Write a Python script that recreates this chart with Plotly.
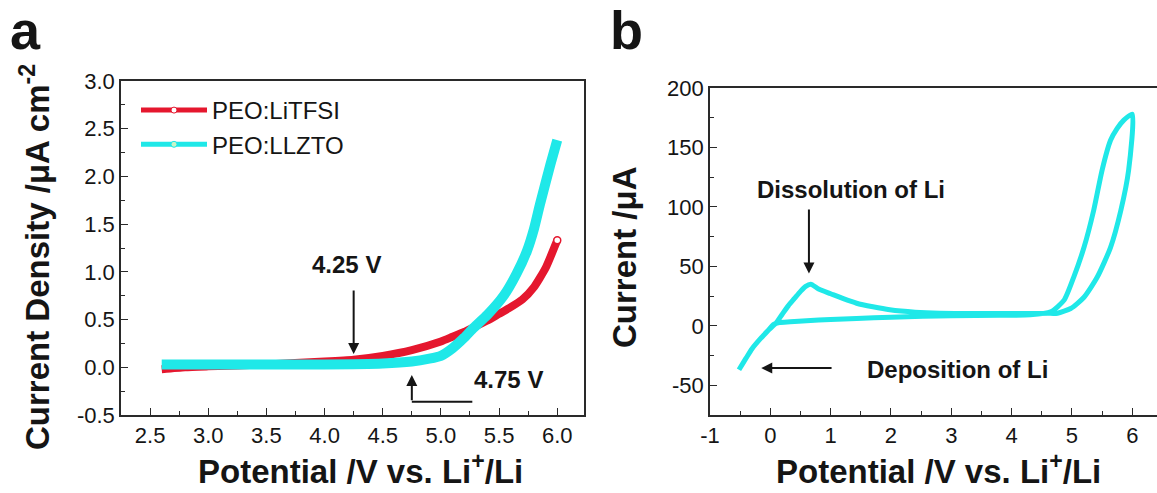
import plotly.graph_objects as go

W, H = 1157, 493

# ---------------- data: panel a (LSV) ----------------
litfsi_x = [2.6, 2.8, 3.0, 3.5, 4.0, 4.25, 4.5, 4.75, 5.0, 5.1, 5.2, 5.3, 5.4, 5.5, 5.6, 5.7, 5.8, 5.9, 6.0]
litfsi_y = [-0.02, 0.0, 0.01, 0.03, 0.06, 0.08, 0.12, 0.18, 0.27, 0.32, 0.37, 0.43, 0.49, 0.56, 0.63, 0.71, 0.84, 1.04, 1.33]
llzto_x = [2.6, 3.0, 3.5, 4.0, 4.5, 4.75, 4.9, 5.0, 5.1, 5.2, 5.27, 5.4, 5.54, 5.65, 5.74, 5.8, 5.85, 5.94, 6.0]
llzto_y = [0.03, 0.03, 0.03, 0.03, 0.04, 0.06, 0.09, 0.12, 0.2, 0.31, 0.40, 0.55, 0.75, 0.98, 1.22, 1.45, 1.70, 2.12, 2.38]

# ---------------- data: panel b (CV) ----------------
cv_x = [-0.52, -0.4, -0.3, -0.16, -0.03, 0.09, 0.2, 0.3, 0.4, 0.5, 0.58, 0.67, 0.8, 1.0, 1.2, 1.43,
        1.7, 1.98, 2.4, 2.81, 3.3, 3.8, 4.3, 4.6, 4.76, 4.98, 5.2, 5.42, 5.64, 5.81, 5.94, 6.0,
        5.86, 5.75, 5.64, 5.5, 5.36, 5.2, 5.03, 4.87, 4.65, 4.31, 3.8, 3.0, 2.53, 2.0, 1.43, 1.0,
        0.6, 0.33, 0.15, 0.05, -0.03, -0.16, -0.3, -0.4, -0.52]
cv_y = [-37, -27, -19, -10.6, -3.6, 2, 10, 17, 23, 29, 33, 35, 31, 27, 23, 19,
        16, 13.5, 11.5, 10.6, 10.3, 10.3, 10.4, 10.5, 10.6, 14.6, 24, 41, 66, 97, 131, 178,
        173, 166, 156, 131, 97, 66, 41, 21.6, 11.8, 9.2, 8.9, 8.4, 8.0, 7.3, 6.2, 5.3,
        4.3, 3.4, 2.8, 1.0, -3.6, -10.6, -19, -27, -37]

# tick labels
a_xticks = [2.5, 3.0, 3.5, 4.0, 4.5, 5.0, 5.5, 6.0]
a_xlabels = ["2.5", "3.0", "3.5", "4.0", "4.5", "5.0", "5.5", "6.0"]
a_yticks = [-0.5, 0.0, 0.5, 1.0, 1.5, 2.0, 2.5, 3.0]
a_ylabels = ["-0.5", "0.0", "0.5", "1.0", "1.5", "2.0", "2.5", "3.0"]
b_xticks = [-1, 0, 1, 2, 3, 4, 5, 6]
b_xlabels = ["-1", "0", "1", "2", "3", "4", "5", "6"]
b_yticks = [-50, 0, 50, 100, 150, 200]
b_ylabels = ["-50", "0", "50", "100", "150", "200"]

RED = "#E5172E"
CYAN = "#1FE8E8"
INK = "#151515"
FONT = "Liberation Sans, Arial, sans-serif"

def px_x(p):
    return p / W

def px_y(p):
    return 1 - p / H

fig = go.Figure()

# panel a curves
fig.add_trace(go.Scatter(x=litfsi_x, y=litfsi_y, mode="lines",
                         line=dict(color=RED, width=8, shape="spline", smoothing=0.5),
                         showlegend=False, xaxis="x", yaxis="y"))
fig.add_trace(go.Scatter(x=litfsi_x[-1:], y=litfsi_y[-1:], mode="markers",
                         marker=dict(symbol="circle", size=7, color="white", line=dict(color=RED, width=1.5)),
                         showlegend=False, xaxis="x", yaxis="y"))
fig.add_trace(go.Scatter(x=llzto_x, y=llzto_y, mode="lines",
                         line=dict(color=CYAN, width=10, shape="spline", smoothing=0.5),
                         showlegend=False, xaxis="x", yaxis="y"))
# legend entries
fig.add_trace(go.Scatter(x=[None], y=[None], mode="lines+markers", name="PEO:LiTFSI",
                         line=dict(color=RED, width=5),
                         marker=dict(symbol="circle", size=6, color="white", line=dict(color=RED, width=1)),
                         xaxis="x", yaxis="y"))
fig.add_trace(go.Scatter(x=[None], y=[None], mode="lines+markers", name="PEO:LLZTO",
                         line=dict(color=CYAN, width=5),
                         marker=dict(symbol="circle", size=6, color="#c8f5c8", line=dict(color=CYAN, width=1)),
                         xaxis="x", yaxis="y"))

# panel b curve
fig.add_trace(go.Scatter(x=cv_x, y=cv_y, mode="lines", line=dict(color=CYAN, width=5, shape="spline", smoothing=0.6),
                         showlegend=False, xaxis="x2", yaxis="y2"))

axis_common = dict(showline=True, linecolor="#2a2a2a", linewidth=1.6, ticks="inside", ticklen=7,
                   tickwidth=1.3, tickcolor="#2a2a2a", showgrid=False, zeroline=False,
                   tickfont=dict(family=FONT, size=22, color=INK), automargin=False)

fig.update_layout(
    width=W, height=H,
    margin=dict(l=0, r=0, t=0, b=0),
    paper_bgcolor="white", plot_bgcolor="white",
    font=dict(family=FONT, color=INK),
    xaxis=dict(domain=[px_x(121), px_x(584)], range=[2.25, 6.23], anchor="y", mirror=True,
               tickmode="array", tickvals=a_xticks, ticktext=a_xlabels,
               minor=dict(ticks="inside", ticklen=4, dtick=0.25, tick0=2.25, tickcolor="#2a2a2a"),
               **axis_common),
    yaxis=dict(domain=[px_y(415), px_y(81)], range=[-0.5, 3.0], anchor="x", mirror=True,
               tickmode="array", tickvals=a_yticks, ticktext=a_ylabels,
               minor=dict(ticks="inside", ticklen=4, dtick=0.25, tick0=-0.25, tickcolor="#2a2a2a"),
               **axis_common),
    xaxis2=dict(domain=[px_x(710), 1.0], range=[-1, 6.41], anchor="y2", mirror=True,
                tickmode="array", tickvals=b_xticks, ticktext=b_xlabels,
                minor=dict(ticks="inside", ticklen=4, dtick=0.5, tick0=-0.5, tickcolor="#2a2a2a"),
                **axis_common),
    yaxis2=dict(domain=[px_y(415), px_y(88)], range=[-75, 200], anchor="x2", mirror=False,
                tickmode="array", tickvals=b_yticks, ticktext=b_ylabels,
                minor=dict(ticks="inside", ticklen=4, dtick=25, tick0=-75, tickcolor="#2a2a2a"),
                **axis_common),
    legend=dict(x=px_x(136), y=px_y(88), xanchor="left", yanchor="top", bgcolor="rgba(0,0,0,0)",
                font=dict(family=FONT, size=24, color=INK), tracegroupgap=0, itemwidth=66),
    showlegend=True,
)

ann = []
# panel letters
ann.append(dict(text="<b>a</b>", x=px_x(8), y=px_y(30), xref="paper", yref="paper", xanchor="left",
                yanchor="middle", showarrow=False, font=dict(family=FONT, size=54, color=INK)))
ann.append(dict(text="<b>b</b>", x=px_x(608), y=px_y(30), xref="paper", yref="paper", xanchor="left",
                yanchor="middle", showarrow=False, font=dict(family=FONT, size=54, color=INK)))
# axis titles
title_font = dict(family=FONT, size=33, color=INK)
ann.append(dict(text="<b>Potential /V vs. Li<sup>+</sup>/Li</b>", x=px_x(360), y=px_y(469), xref="paper", yref="paper",
                xanchor="center", yanchor="middle", showarrow=False, font=title_font))
ann.append(dict(text="<b>Potential /V vs. Li<sup>+</sup>/Li</b>", x=px_x(938), y=px_y(469), xref="paper", yref="paper",
                xanchor="center", yanchor="middle", showarrow=False, font=title_font))
ann.append(dict(text="<b>Current Density /μA cm<sup>-2</sup></b>", x=px_x(35), y=px_y(257), xref="paper", yref="paper",
                xanchor="center", yanchor="middle", textangle=-90, showarrow=False, font=title_font))
ann.append(dict(text="<b>Current /μA</b>", x=px_x(624), y=px_y(257), xref="paper", yref="paper",
                xanchor="center", yanchor="middle", textangle=-90, showarrow=False, font=title_font))

lab_font = dict(family=FONT, size=24, color=INK)
# panel a annotations
ann.append(dict(text="<b>4.25 V</b>", x=4.19, y=1.08, xref="x", yref="y", showarrow=False, font=lab_font))
ann.append(dict(text="", x=4.25, y=0.14, ax=4.25, ay=0.82, xref="x", yref="y", axref="x", ayref="y",
                showarrow=True, arrowhead=2, arrowsize=1.1, arrowwidth=2, arrowcolor=INK, standoff=0))
ann.append(dict(text="<b>4.75 V</b>", x=5.58, y=-0.13, xref="x", yref="y", showarrow=False, font=lab_font))
ann.append(dict(text="", x=4.75, y=-0.08, ax=4.75, ay=-0.36, xref="x", yref="y", axref="x", ayref="y",
                showarrow=True, arrowhead=2, arrowsize=1.1, arrowwidth=2, arrowcolor=INK, standoff=0))
# panel b annotations
ann.append(dict(text="<b>Dissolution of Li</b>", x=1.34, y=115, xref="x2", yref="y2", showarrow=False, font=lab_font))
ann.append(dict(text="", x=0.64, y=44, ax=0.64, ay=99, xref="x2", yref="y2", axref="x2", ayref="y2",
                showarrow=True, arrowhead=2, arrowsize=1.1, arrowwidth=2, arrowcolor=INK, standoff=0))
ann.append(dict(text="<b>Deposition of Li</b>", x=3.1, y=-37, xref="x2", yref="y2", showarrow=False, font=lab_font))
ann.append(dict(text="", x=-0.15, y=-35.5, ax=1.04, ay=-35.5, xref="x2", yref="y2", axref="x2", ayref="y2",
                showarrow=True, arrowhead=2, arrowsize=1.1, arrowwidth=2, arrowcolor=INK, standoff=0))
fig.update_layout(annotations=ann)

fig.add_shape(type="line", xref="x", yref="y", x0=4.75, x1=5.27, y0=-0.36, y1=-0.36,
              line=dict(color=INK, width=2))

fig.write_html("out.html")
